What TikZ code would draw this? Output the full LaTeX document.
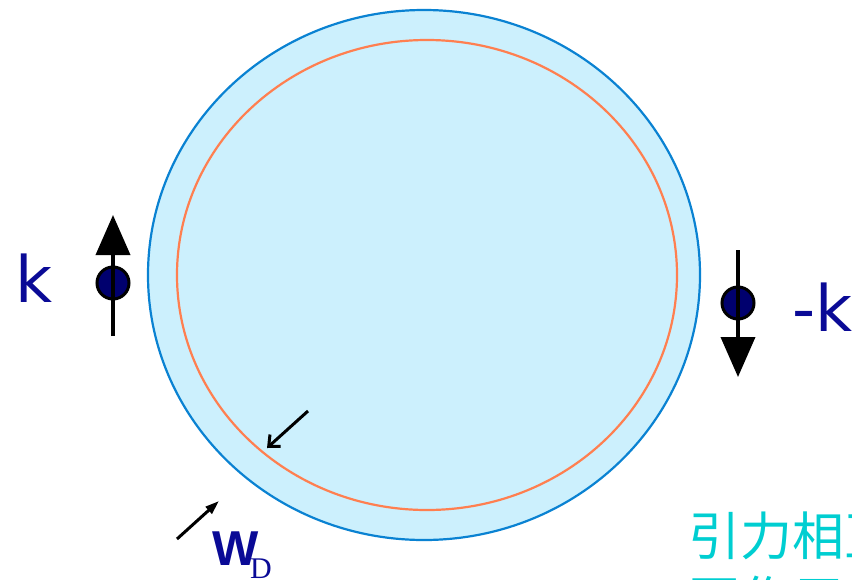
\documentclass[tikz,border=0pt]{standalone}
\usepackage{fontspec}
\setmainfont{DejaVu Sans}
\newfontfamily\cjk{Noto Sans CJK SC}
\newfontfamily\serifD{Liberation Serif}
\newfontfamily\arialish{Liberation Sans}
\usetikzlibrary{arrows.meta}
\definecolor{navy}{HTML}{0A0A96}
\definecolor{dotnavy}{HTML}{00006E}
\definecolor{skyfill}{HTML}{CCF0FD}
\definecolor{skyline}{HTML}{0A82D2}
\definecolor{coral}{HTML}{FF7F50}
\definecolor{teal}{HTML}{00CED1}
\tikzset{
  spin/.style={line width=3.8pt, -{Triangle[length=40pt,width=34pt]}},
  dotball/.style={circle, draw=black, line width=3pt, fill=dotnavy, minimum size=32pt, inner sep=0pt},
  lbl/.style={text=navy, font=\fontsize{64}{64}\selectfont, inner sep=0pt},
  smallarrow/.style={line width=3pt}
}
\begin{document}
\begin{tikzpicture}[x=1pt,y=-1pt]
\useasboundingbox (0,0) rectangle (852,579);
\clip (0,0) rectangle (852,579);
\draw[skyline, fill=skyfill, line width=2.2pt] (424,275) ellipse [x radius=276, y radius=265];
\draw[coral, line width=2.2pt] (427,275) ellipse [x radius=250, y radius=235];
% left spin
\node[dotball] (d1) at (113,283) {};
\coordinate (a1s) at (113,336);
\coordinate (a1e) at (113,215);
\draw[spin] (a1s) -- (a1e);
\node[lbl, anchor=base west] (k1) at (15,302) {k};
% right spin
\node[dotball] (d2) at (738,303) {};
\coordinate (a2s) at (738,250);
\coordinate (a2e) at (738,377);
\draw[spin] (a2s) -- (a2e);
\node[lbl, anchor=base west] (k2) at (792,331) {-k};
% small arrows
\coordinate (s1s) at (308,411);
\coordinate (s1e) at (267,448);
\draw[smallarrow, -{Straight Barb[length=9pt,width=16pt]}] (s1s) -- (s1e);
\coordinate (s2s) at (177,539);
\coordinate (s2e) at (219,501);
\draw[smallarrow, -{Triangle[length=14pt,width=9pt]}] (s2s) -- (s2e);
\node[text=navy, font=\arialish\fontsize{49}{49}\selectfont\bfseries, anchor=base west, inner sep=0pt] (w) at (212,565) {W};
\node[text=navy, font=\serifD\fontsize{30}{30}\selectfont, anchor=base west, inner sep=0pt] (dsub) at (250,578) {D};
% chinese text
\node[text=teal, font=\cjk\fontsize{52}{56}\selectfont, anchor=base west, inner sep=0pt] (t1) at (688,555) {引力相互};
\node[text=teal, font=\cjk\fontsize{52}{56}\selectfont, anchor=base west, inner sep=0pt] (t2) at (688,619) {互作用};
\end{tikzpicture}
\end{document}
